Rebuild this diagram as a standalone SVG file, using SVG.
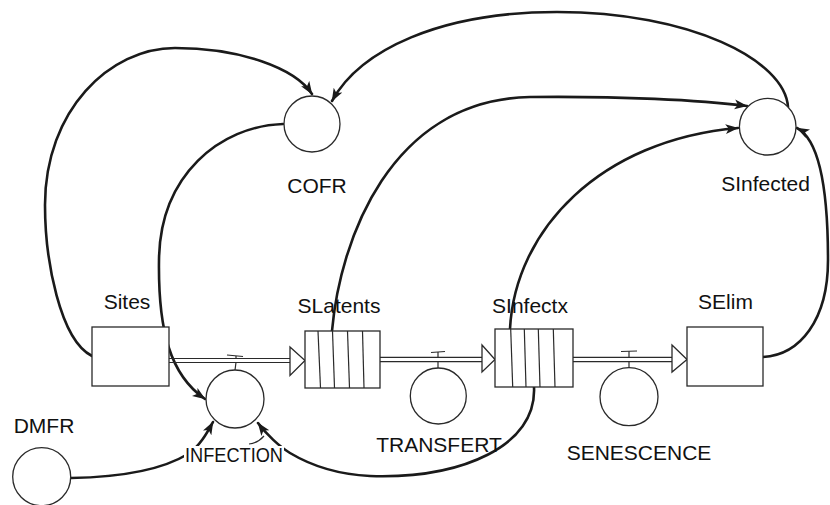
<svg xmlns="http://www.w3.org/2000/svg" width="830" height="505" viewBox="0 0 830 505">
<defs>
<marker id="ah" viewBox="0 0 12 10" refX="11.5" refY="5" markerWidth="13" markerHeight="11" markerUnits="userSpaceOnUse" orient="auto">
<path d="M0,0.5 L12,5 L0,9.5 L3,5 z" fill="#1a1a1a"/>
</marker>
<style>
.box{fill:#fff;stroke:#2a2a2a;stroke-width:1.3}
.thin{fill:none;stroke:#2a2a2a;stroke-width:1.2}
.conn{fill:none;stroke:#1a1a1a;stroke-width:2.6;stroke-linecap:round}
.head{fill:#fff;stroke:#2a2a2a;stroke-width:1.3;stroke-linejoin:miter}
.lbl{font-family:"Liberation Sans",Arial,sans-serif;font-size:21px;fill:#111;text-anchor:middle}
</style>
</defs>
<rect width="830" height="505" fill="#fff"/>

<g id="connectors">
<path class="conn" d="M92,356 C60,340 45,260 45,205 C45,110 110,48 175,48 C240,48 295,68 312,94" marker-end="url(#ah)"/>
<path class="conn" d="M788,107 C785,60 690,12 557,12 C440,12 360,50 332,101" marker-end="url(#ah)"/>
<path class="conn" d="M283,124 C220,126 160,175 159,260 C158,330 170,375 205,399" marker-end="url(#ah)"/>
<path class="conn" d="M332,331 C340,240 390,100 530,97 C620,96 700,100 747,106" marker-end="url(#ah)"/>
<path class="conn" d="M510,329 C515,230 600,140 738,128" marker-end="url(#ah)"/>
<path class="conn" d="M763,357 C800,355 828,320 828,260 C828,190 820,140 797,128" marker-end="url(#ah)"/>
<path class="conn" d="M71,478 C130,477 165,468 188,454 C200,446 207,433 213,422" marker-end="url(#ah)"/>
<path class="conn" d="M534,387 C537,446 462,479 370,476 C330,474 305,462 290,453 C280,447 266,434 258,423" marker-end="url(#ah)"/>
<path class="thin" d="M249,444 Q258,443 264,436"/>
</g>

<g id="flows">
<g id="flow-infection">
<line class="thin" x1="169" y1="358.5" x2="290" y2="358.5"/>
<line class="thin" x1="169" y1="362.5" x2="290" y2="362.5"/>
<polygon class="head" points="290,347 305,360.5 290,375.5"/>
<line class="thin" x1="227" y1="355" x2="243" y2="356.5"/>
<line class="thin" x1="236" y1="356" x2="236" y2="358.5"/>
<line class="thin" x1="236" y1="362.5" x2="235" y2="370"/>
</g>
<g id="flow-transfert">
<line class="thin" x1="380" y1="357.3" x2="482" y2="357.3"/>
<line class="thin" x1="380" y1="361.7" x2="482" y2="361.7"/>
<polygon class="head" points="482,345 495,359.5 482,372"/>
<line class="thin" x1="431" y1="352.5" x2="445" y2="351.5"/>
<line class="thin" x1="438" y1="352" x2="438" y2="357.3"/>
<line class="thin" x1="438" y1="361.7" x2="438" y2="368"/>
</g>
<g id="flow-senescence">
<line class="thin" x1="573" y1="357.3" x2="672" y2="357.3"/>
<line class="thin" x1="573" y1="361.7" x2="672" y2="361.7"/>
<polygon class="head" points="672,345 687,359.5 672,372"/>
<line class="thin" x1="621" y1="351.5" x2="637" y2="351"/>
<line class="thin" x1="629" y1="351.3" x2="629" y2="357.3"/>
<line class="thin" x1="629" y1="361.7" x2="629" y2="367.7"/>
</g>
</g>

<g id="Sites">
<rect class="box" x="92" y="327" width="77" height="59"/>
<text class="lbl" x="127" y="309">Sites</text>
</g>
<g id="SLatents">
<rect class="box" x="305" y="331" width="75" height="57"/>
<line class="thin" x1="318" y1="331" x2="320.5" y2="388"/>
<line class="thin" x1="332.5" y1="331" x2="334.5" y2="388"/>
<line class="thin" x1="347.5" y1="331" x2="349.5" y2="388"/>
<line class="thin" x1="362.5" y1="331" x2="364" y2="388"/>
<text class="lbl" x="339" y="313">SLatents</text>
</g>
<g id="SInfectx">
<rect class="box" x="495" y="329" width="78" height="58"/>
<line class="thin" x1="510.7" y1="329" x2="512.7" y2="387"/>
<line class="thin" x1="524.3" y1="329" x2="526" y2="387"/>
<line class="thin" x1="538.3" y1="329" x2="540" y2="387"/>
<line class="thin" x1="553.3" y1="329" x2="555" y2="387"/>
<text class="lbl" x="530" y="313">SInfectx</text>
</g>
<g id="SElim">
<rect class="box" x="687" y="327" width="76" height="59"/>
<text class="lbl" x="725.5" y="309">SElim</text>
</g>
<g id="COFR">
<circle class="box" cx="312" cy="124" r="28"/>
<text class="lbl" x="317" y="193">COFR</text>
</g>
<g id="SInfected">
<circle class="box" cx="767.7" cy="126.7" r="28.3"/>
<text class="lbl" x="765.5" y="190.7">SInfected</text>
</g>
<g id="INFECTION">
<circle class="box" cx="235" cy="399" r="29"/>
<rect x="184" y="446" width="100" height="19" fill="#fff"/>
<text class="lbl" x="234" y="461.7" textLength="98" lengthAdjust="spacingAndGlyphs">INFECTION</text>
</g>
<g id="TRANSFERT">
<circle class="box" cx="438.3" cy="396" r="28"/>
<text class="lbl" x="439" y="451.7">TRANSFERT</text>
</g>
<g id="SENESCENCE">
<circle class="box" cx="629" cy="396.7" r="29"/>
<text class="lbl" x="639" y="460">SENESCENCE</text>
</g>
<g id="DMFR">
<circle class="box" cx="41.7" cy="476.7" r="29"/>
<text class="lbl" x="44" y="432.7">DMFR</text>
</g>
</svg>
